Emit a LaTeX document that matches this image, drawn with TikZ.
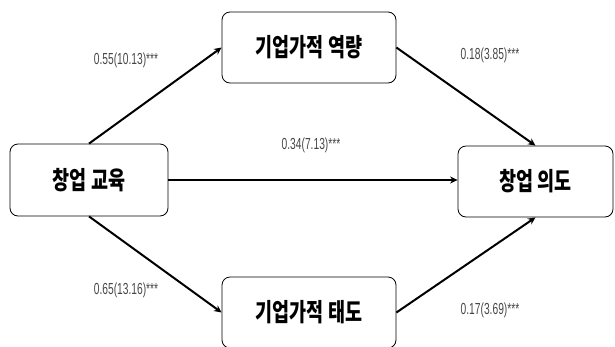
\documentclass[tikz,border=0pt]{standalone}
\usepackage{fontspec}
\usetikzlibrary{arrows.meta}
\newfontfamily\krfont[FakeStretch=0.74]{Noto Sans CJK KR}
\newfontfamily\numfont[FakeStretch=0.64]{Liberation Sans}
\begin{document}
\begin{tikzpicture}[x=1pt,y=-1pt,
  boxnode/.style={draw=black,line width=0.8pt,rounded corners=8pt,fill=white,
    minimum width=174pt,minimum height=71pt,inner sep=0pt,
    font=\krfont\bfseries\fontsize{25}{28}\selectfont},
  conn/.style={line width=2pt,-{Stealth[length=7.5pt,width=7pt]}},
  coef/.style={font=\numfont\fontsize{16}{18}\selectfont,text=black!72,inner sep=0pt}]
\useasboundingbox (0,0) rectangle (615,346);
\clip (0,0) rectangle (615,346);
\node[boxnode] (cap) at (309,47.5) {기업가적 역량};
\node[boxnode,minimum width=158pt,minimum height=72pt] (edu) at (89,180) {창업 교육};
\node[boxnode,minimum width=155pt,minimum height=71pt] (int) at (535.5,181.5) {창업 의도};
\node[boxnode] (att) at (309,312.5) {기업가적 태도};
\draw[conn] (edu.north) -- (cap.west);
\draw[conn] (cap.east) -- (int.north);
\draw[conn] (edu.south) -- (att.west);
\draw[conn] (att.east) -- (int.south);
\draw[conn] (edu.east) -- (edu.east -| int.west);
\node[coef] (l1) at (126,60) {0.55(10.13)***};
\node[coef] (l2) at (311,145) {0.34(7.13)***};
\node[coef] (l3) at (490,55) {0.18(3.85)***};
\node[coef] (l4) at (126,290) {0.65(13.16)***};
\node[coef] (l5) at (490,310) {0.17(3.69)***};
\end{tikzpicture}
\end{document}
